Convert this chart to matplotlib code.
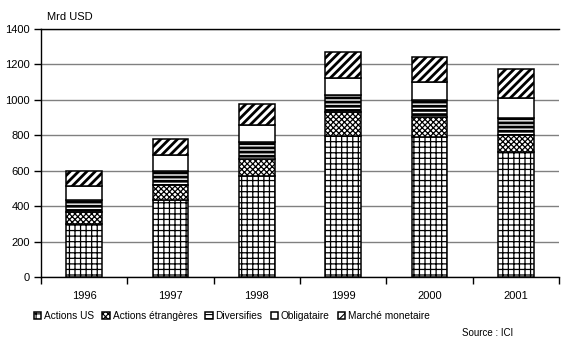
import matplotlib.pyplot as plt
import numpy as np

plt.rcParams['font.family'] = ['Liberation Sans', 'DejaVu Sans']
plt.rcParams['hatch.linewidth'] = 0.9

annees = ['1996', '1997', '1998', '1999', '2000', '2001']
actions_us = [301, 433, 571, 797, 789, 706]
actions_etr = [65, 89, 94, 132, 117, 94]
diversifies = [67, 77, 96, 97, 96, 96]
obligataire = [79, 89, 96, 100, 96, 117]
marche_mon = [89, 90, 117, 142, 143, 164]

series = [
    ('Actions US', actions_us, '+++', 0.9),
    ('Actions étrangères', actions_etr, 'xxxxxx', 0.9),
    ('Diversifies', diversifies, '----', 2.0),
    ('Obligataire', obligataire, '', 0.9),
    ('Marché monetaire', marche_mon, '////', 2.0),
]

fig = plt.figure(figsize=(5.65, 3.46), dpi=100)
ax = fig.add_axes([41 / 565, 1 - 277 / 346, 518 / 565, 248 / 346])

x = np.arange(len(annees))
bas = np.zeros(len(annees))
for nom, vals, hatch, hlw in series:
    bars = ax.bar(x, vals, 0.41, bottom=bas, color='white', edgecolor='black',
                  linewidth=1.1, hatch=hatch, label=nom, zorder=3)
    for b in bars:
        if hasattr(b, 'set_hatch_linewidth'):
            b.set_hatch_linewidth(hlw)
    bas += np.array(vals)

ax.set_xlim(-0.5, 5.5)
ax.set_ylim(0, 1400)
ax.set_yticks(range(0, 1401, 200))
ax.yaxis.grid(True, color='#808080', linewidth=1.0, zorder=0)
ax.set_axisbelow(True)

ax.set_xticks(np.arange(-0.5, 6, 1))
ax.set_xticklabels([])
ax.set_xticks(x, minor=True)
ax.set_xticklabels(annees, minor=True)
ax.tick_params(axis='x', which='minor', length=0, pad=10, labelsize=8)
ax.tick_params(axis='x', which='major', length=5, width=1, direction='out')
ax.tick_params(axis='y', length=5, width=1, direction='out', labelsize=8, pad=3)

ax.spines['right'].set_visible(False)
for s in ['left', 'bottom', 'top']:
    ax.spines[s].set_linewidth(1.0)
    ax.spines[s].set_color('black')

fig.text(47 / 565, 1 - 17 / 346, 'Mrd USD', fontsize=8, va='center')

leg = fig.legend(loc='center left', bbox_to_anchor=(30 / 565, 1 - 316 / 346),
                 ncol=5, frameon=False, fontsize=7.3, handlelength=0.7,
                 handleheight=0.7, handletextpad=0.3, columnspacing=0.8,
                 borderaxespad=0)
for p in leg.get_patches():
    if hasattr(p, 'set_hatch_linewidth'):
        p.set_hatch_linewidth(0.8)

fig.text(513 / 565, 1 - 333 / 346, 'Source : ICI', fontsize=7, ha='right', va='center')

fig.savefig('out.png', dpi=100)
